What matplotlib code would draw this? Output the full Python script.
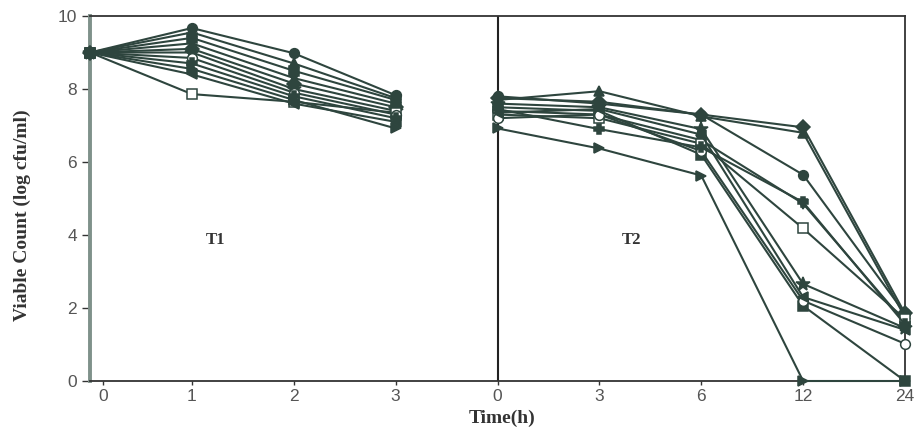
import matplotlib.pyplot as plt

# sampling times for each trial, drawn on one shared axis
t1_times = ["0", "1", "2", "3"]
t2_times = ["0", "3", "6", "12", "24"]

# viable counts (log cfu/ml), one row per isolate
t1_counts = [
    [9.0, 9.67, 8.98, 7.83],
    [9.0, 9.40, 8.50, 7.70],
    [9.0, 9.55, 8.70, 7.75],
    [9.0, 9.25, 8.30, 7.60],
    [9.0, 9.10, 8.15, 7.50],
    [9.0, 9.00, 8.00, 7.40],
    [9.0, 7.86, 7.65, 7.35],
    [9.0, 8.85, 7.90, 7.30],
    [9.0, 8.55, 7.70, 6.92],
    [9.0, 8.70, 7.80, 7.20],
    [9.0, 8.40, 7.60, 7.10],
]
t2_counts = [
    [7.80, 7.60, 7.30, 5.65, 1.85],
    [7.50, 7.40, 6.20, 2.06, 0.00],
    [7.70, 7.94, 7.25, 6.80, 1.75],
    [7.40, 7.30, 6.60, 4.86, 1.60],
    [7.75, 7.65, 7.30, 6.95, 1.85],
    [7.60, 7.50, 6.90, 2.66, 1.45],
    [7.30, 7.20, 6.50, 4.18, 1.70],
    [7.20, 7.30, 6.30, 2.20, 1.02],
    [6.92, 6.37, 5.63, 0.00, 0.00],
    [7.45, 6.90, 6.40, 4.90, 1.55],
    [7.35, 7.45, 6.75, 2.30, 1.40],
]
markers = ["o", "s", "^", "v", "D", "*", "s", "o", ">", "P", "<"]
open_marker = [False, False, False, False, False, False, True, True, False, False, False]

ink = "#2e453e"

fig = plt.figure(figsize=(9.21, 4.34), dpi=100)
ax = fig.add_axes([90 / 921, 1 - 381 / 434, 815 / 921, 365 / 434])

x1 = list(range(len(t1_times)))
x2 = [len(t1_times) + i for i in range(len(t2_times))]

for i in range(len(t1_counts)):
    face = "white" if open_marker[i] else ink
    ms = 10 if markers[i] == "*" else 7
    for xs, ys in ((x1, t1_counts[i]), (x2, t2_counts[i])):
        ax.plot(xs, ys, color=ink, lw=1.5, marker=markers[i], ms=ms,
                mfc=face, mec=ink, mew=1.1, clip_on=False, zorder=3)

# divider between the two trials
ax.axvline(len(t1_times), color="#222", lw=1.5, zorder=2)

ax.set_xlim(0, 8)
ax.set_ylim(0, 10)
ax.set_yticks([0, 2, 4, 6, 8, 10])
ax.set_xticks([0.13] + x1[1:] + x2)
ax.set_xticklabels(t1_times + t2_times)

ax.spines["left"].set_color("#7f918a")
ax.spines["left"].set_linewidth(2.8)
for side in ("top", "right", "bottom"):
    ax.spines[side].set_color("#333")
    ax.spines[side].set_linewidth(1.3)

ax.tick_params(axis="both", colors="#333", labelcolor="#555", labelsize=12.5,
               length=6, width=1.0)
ax.tick_params(axis="x", length=3, pad=3)
for lab in ax.get_xticklabels() + ax.get_yticklabels():
    lab.set_family("Liberation Sans")

ax.text(1.23, 3.85, "T1", family="Liberation Serif", weight="bold",
        fontsize=12, color="#333", ha="center", va="center")
ax.text(5.32, 3.85, "T2", family="Liberation Serif", weight="bold",
        fontsize=12, color="#333", ha="center", va="center")

fig.text(502 / 921, 1 - 418 / 434, "Time(h)", family="Liberation Serif",
         weight="bold", fontsize=14, color="#333", ha="center", va="center")
fig.text(22 / 921, 1 - 215 / 434, "Viable Count (log cfu/ml)",
         family="Liberation Serif", weight="bold", fontsize=14, color="#333",
         rotation=90, ha="center", va="center")

fig.savefig("out.png", dpi=100)
